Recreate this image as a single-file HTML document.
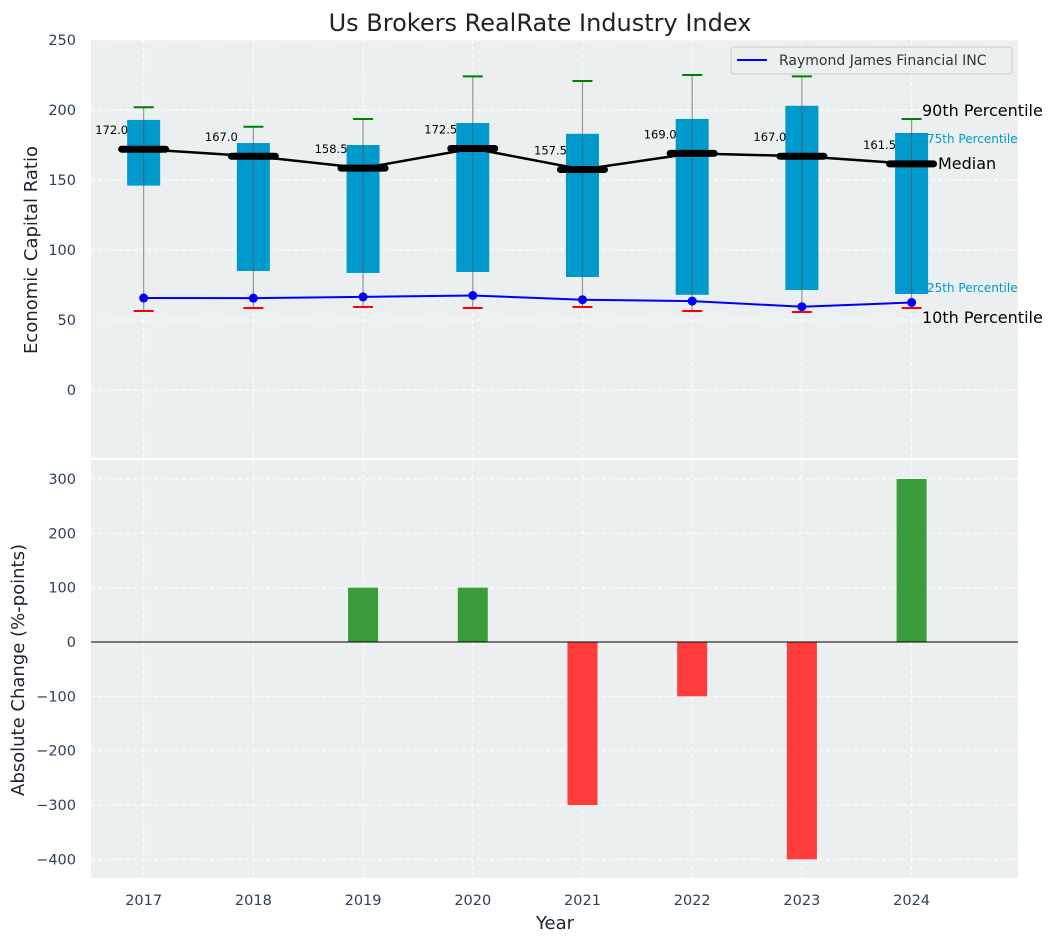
<!DOCTYPE html>
<html><head><meta charset="utf-8"><style>
body{margin:0;background:#fff;font-family:"Liberation Sans","DejaVu Sans",sans-serif}
svg text{font-family:"DejaVu Sans","Liberation Sans",sans-serif}
</style></head><body>
<svg id="chart" width="1057" height="942" xmlns="http://www.w3.org/2000/svg">
<text x="540" y="31" text-anchor="middle" font-size="24" fill="#222">Us Brokers RealRate Industry Index</text>
<g id="topg"></g><g id="botg"></g>
</svg>
<script>
const years=["2017","2018","2019","2020","2021","2022","2023","2024"];
const p10=[56.4,58.6,59.3,58.6,59.3,56.4,55.7,58.6];
const q1=[146,85,83.6,84.3,80.7,68,71.4,68.6];
const median=[172.0,167.0,158.5,172.5,157.5,169.0,167.0,161.5];
const q3=[192.9,176.4,175,190.7,183,193.6,203,183.6];
const p90=[202,188,193.6,224,220.7,225,224,193.6];
const company=[65.7,65.6,66.5,67.5,64.5,63.5,59.5,62.5];
const changes=[0,0,100,100,-300,-100,-400,300];
const topTicks=[0,50,100,150,200,250];
const botTicks=[-400,-300,-200,-100,0,100,200,300];

const NS="http://www.w3.org/2000/svg";
function mk(parent,tag,attrs,text){const e=document.createElementNS(NS,tag);for(const k in attrs)e.setAttribute(k,attrs[k]);if(text!==undefined)e.textContent=text;parent.appendChild(e);return e;}
const L=91,R=1018;
const TC='#2e4057';
const x=i=>L+(i+0.48)/(8.45)*(R-L);
const yT=v=>390-v*1.4;
const yB=v=>642-v*0.5433;
const gTop=document.getElementById('topg'),gBot=document.getElementById('botg');

let bg=mk(gTop,'rect',{x:L,y:40,width:R-L,height:418,fill:'#ebeff0'});


let bg2=mk(gBot,'rect',{x:L,y:460,width:R-L,height:418,fill:'#ebeff0'});



years.forEach((yr,i)=>{
 mk(gTop,'line',{x1:x(i),x2:x(i),y1:40,y2:458,stroke:'#fff','stroke-dasharray':'4,3','stroke-width':1});
 mk(gBot,'line',{x1:x(i),x2:x(i),y1:460,y2:878,stroke:'#fff','stroke-dasharray':'4,3','stroke-width':1});
 let t=mk(gBot,'text',{x:x(i),y:905,'text-anchor':'middle','font-size':14.5,fill:TC},yr);
 
 
});
topTicks.forEach(v=>{
 mk(gTop,'line',{x1:L,x2:R,y1:yT(v),y2:yT(v),stroke:'#fff','stroke-dasharray':'4,3'});
 let t=mk(gTop,'text',{x:76,y:yT(v)+5,'text-anchor':'end','font-size':14.5,fill:TC},v);
 
 
});
botTicks.forEach(v=>{
 mk(gBot,'line',{x1:L,x2:R,y1:yB(v),y2:yB(v),stroke:'#fff','stroke-dasharray':'4,3'});
 let t=mk(gBot,'text',{x:76,y:yB(v)+5,'text-anchor':'end','font-size':14.5,fill:TC},v<0?'\u2212'+(-v):v);
 
 
});

years.forEach((yr,i)=>{
 let b=mk(gTop,'rect',{x:x(i)-16.5,y:yT(q3[i]),width:33,height:yT(q1[i])-yT(q3[i]),fill:'#0099cc'});
 
 
 mk(gTop,'line',{x1:x(i),x2:x(i),y1:yT(p90[i]),y2:yT(p10[i]),stroke:'#555','stroke-opacity':0.6,'stroke-width':1.2});
 let g=mk(gTop,'line',{x1:x(i)-10,x2:x(i)+10,y1:yT(p90[i]),y2:yT(p90[i]),stroke:'green','stroke-width':2});
 
 
 let r=mk(gTop,'line',{x1:x(i)-10,x2:x(i)+10,y1:yT(p10[i]),y2:yT(p10[i]),stroke:'red','stroke-width':2});
 
 
});
let mp=mk(gTop,'polyline',{points:median.map((v,i)=>x(i)+','+yT(v)).join(' '),fill:'none',stroke:'#000','stroke-width':2.5});


years.forEach((yr,i)=>{
 let m=mk(gTop,'line',{x1:x(i)-22,x2:x(i)+22,y1:yT(median[i]),y2:yT(median[i]),stroke:'#000','stroke-width':7,'stroke-linecap':'round'});
 
 
 let t=mk(gTop,'text',{x:x(i)-32,y:yT(median[i])-15,'text-anchor':'middle','font-size':11.5,fill:'#000'},median[i].toFixed(1));
 
 
});
let cl=mk(gTop,'polyline',{points:company.map((v,i)=>x(i)+','+yT(v)).join(' '),fill:'none',stroke:'blue','stroke-width':2});


company.forEach((v,i)=>{
 let c=mk(gTop,'circle',{cx:x(i),cy:yT(v),r:4.5,fill:'blue'});
 
 
});
const ann=[[922,116,'90th Percentile',16,'#000'],[927,143,'75th Percentile',12,'#0099cc'],[938,169,'Median',16,'#000'],[927,292,'25th Percentile',12,'#0099cc'],[922,323,'10th Percentile',16,'#000']];
ann.forEach(a=>{let t=mk(gTop,'text',{x:a[0],y:a[1],'font-size':a[3],fill:a[4]},a[2]);
 
 });
let lg=mk(gTop,'g',{});


mk(lg,'rect',{x:731,y:47,width:281,height:27,rx:3,fill:'#ebeff0',stroke:'#ccc'});
mk(lg,'line',{x1:737,x2:767,y1:60,y2:60,stroke:'blue','stroke-width':2});
mk(lg,'text',{x:779,y:65,'font-size':14,fill:'#333'},'Raymond James Financial INC');

changes.forEach((v,i)=>{
 const y0=yB(0),y1=yB(v);
 let b=mk(gBot,'rect',{x:x(i)-15,y:Math.min(y0,y1),width:30,height:Math.abs(y1-y0),fill:v>=0?'#3a9c3a':'#ff3b3b'});
 
 
});
mk(gBot,'line',{x1:L,x2:R,y1:yB(0),y2:yB(0),stroke:'#000','stroke-width':1});

let yl=mk(gTop,'text',{x:37,y:250,'text-anchor':'middle','font-size':18,fill:'#1a2530',transform:'rotate(-90 37 250)'},'Economic Capital Ratio');


let yl2=mk(gBot,'text',{x:24,y:670,'text-anchor':'middle','font-size':18,fill:'#1a2530',transform:'rotate(-90 24 670)'},'Absolute Change (%-points)');


let xl=mk(gBot,'text',{x:555,y:929,'text-anchor':'middle','font-size':18,fill:'#1a2530'},'Year');


</script>
</body></html>
